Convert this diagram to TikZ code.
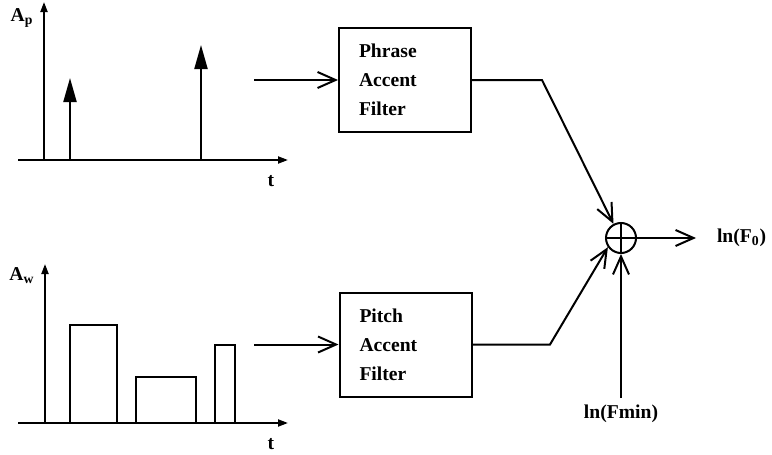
\documentclass[tikz,border=0pt]{standalone}
\usepackage{fontspec}
\setmainfont{Liberation Serif}
\usetikzlibrary{arrows.meta,positioning}

\begin{document}
\begin{tikzpicture}[x=0.5pt,y=-0.5pt,line width=1pt,
		filterbox/.style={draw,rectangle,minimum width=66pt,minimum height=52pt,
			text width=46pt,inner xsep=10pt,align=left,
			font=\fontsize{9.8}{14.5}\selectfont\bfseries},
		lbl/.style={inner sep=0pt,font=\fontsize{9.8}{12}\selectfont\bfseries},
		sig/.style={-{Straight Barb[length=9pt,width=8pt]}},
		axis/.style={-{Triangle[length=5pt,width=3.5pt]}},
		impulse/.style={-{Triangle[length=12pt,width=6.5pt]}}]
				
				% page frame
				\useasboundingbox (0,0) rectangle (772,455);
				
				% phrase commands: impulses on a time axis
				\draw[axis] (18,160) -- (288,160);
				\draw[axis] (44,160) -- (44,2);
				\node[lbl] (ap) at (22,18) {A\textsubscript{p}};
				\node[lbl] (tp) at (271,181) {t};
				\draw[impulse] (70,160) -- (70,78);
				\draw[impulse] (201,160) -- (201,45);
				
				% accent commands: step pulses on a time axis
				\draw[axis] (18,423) -- (288,423);
				\draw[axis] (45,423) -- (45,264);
				\node[lbl] (aw) at (22,276) {A\textsubscript{w}};
				\node[lbl] (tw) at (271,444) {t};
				\draw (70,423) rectangle (117,325);
				\draw (136,423) rectangle (196,377);
				\draw (215,423) rectangle (235,345);
				
				% the two filters
				\node[filterbox] (phrase) at (405,80) {Phrase\\Accent\\Filter};
				\node[filterbox] (pitch) at (405.5,344.5) {Pitch\\Accent\\Filter};
				
				% summing point
				\node[draw,circle,minimum size=15pt,inner sep=0pt] (sum) at (621,238) {};
				\draw (sum.north) -- (sum.south) (sum.west) -- (sum.east);
				
				% labels on the right
				\node[lbl,right] (lnf) at (716,238) {ln(F\textsubscript{0})};
				\node[lbl] (lnfmin) at (621,414) {ln(Fmin)};
				
				% signal flow
				\coordinate (pin) at (254,80);
				\coordinate (win) at (254,344.5);
				\coordinate (pbend) at (542,80);
				\coordinate (wbend) at (550,344.5);
				\coordinate (fout) at (696,238);
				\coordinate (fmin) at (621,398);
				\draw[sig] (pin) -- (phrase.west);
				\draw[sig] (win) -- (pitch.west);
				\draw[sig] (phrase.east) -- (pbend) -- (sum.118);
				\draw[sig] (pitch.east) -- (wbend) -- (sum.215);
				\draw[sig] (fmin) -- (sum.south);
				\draw[sig] (sum.east) -- (fout);
				
\end{tikzpicture}
\end{document}
